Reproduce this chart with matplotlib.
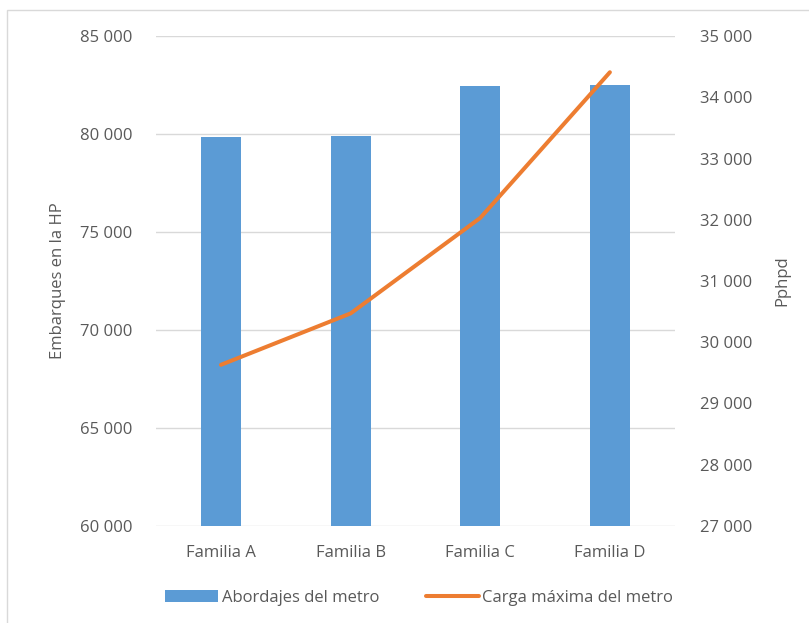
import matplotlib
matplotlib.use("Agg")
import matplotlib.pyplot as plt
from matplotlib.patches import Rectangle
from matplotlib.ticker import FuncFormatter, MultipleLocator

familias = ["Familia A", "Familia B", "Familia C", "Familia D"]
abordajes = [79860, 79910, 82450, 82500]
carga_max = [29630, 30470, 32030, 34410]

plt.rcParams['font.family'] = ['Open Sans', 'DejaVu Sans']
gris = '#595959'
fs = 12

fig = plt.figure(figsize=(8.09, 6.23), dpi=100)
ax = fig.add_axes([0.193, 0.156, 0.641, 0.786])
ax2 = ax.twinx()

x = range(len(familias))
barras = ax.bar(x, abordajes, width=0.31, color='#5B9BD5', zorder=2,
                label='Abordajes del metro')
linea, = ax2.plot(x, carga_max, color='#ED7D31', lw=2.9,
                  solid_capstyle='round', label='Carga máxima del metro')

ax.set_xlim(-0.5, 3.5)
ax.set_ylim(60000, 85000)
ax2.set_ylim(27000, 35000)
ax.yaxis.set_major_locator(MultipleLocator(5000))
ax2.yaxis.set_major_locator(MultipleLocator(1000))

fmt = FuncFormatter(lambda v, p: f"{int(v):,}".replace(",", " "))
ax.yaxis.set_major_formatter(fmt)
ax2.yaxis.set_major_formatter(fmt)

ax.set_xticks(list(x))
ax.set_xticklabels(familias)
ax.grid(axis='y', color='#D9D9D9', lw=1, zorder=0)
ax.set_axisbelow(True)

for a in (ax, ax2):
    for s in a.spines.values():
        s.set_visible(False)
    a.tick_params(length=0, labelsize=fs, colors=gris)
ax.tick_params(axis='y', pad=17)
ax2.tick_params(axis='y', pad=18)
ax.tick_params(axis='x', pad=14)

ax.set_ylabel('Embarques en la HP', fontsize=fs, color=gris, labelpad=10)
ax2.set_ylabel('Pphpd', fontsize=fs, color=gris, labelpad=16)

fig.legend([barras, linea], ['Abordajes del metro', 'Carga máxima del metro'],
           loc='center', bbox_to_anchor=(0.518, 0.04), ncol=2, frameon=False,
           fontsize=fs, labelcolor=gris, handlelength=3.2, handletextpad=0.2,
           columnspacing=2.8)

fig.patches.append(Rectangle((0.009, -0.01), 1.0, 0.994, transform=fig.transFigure,
                             fill=False, edgecolor='#D9D9D9', lw=1))

fig.savefig('out.png', dpi=100)
